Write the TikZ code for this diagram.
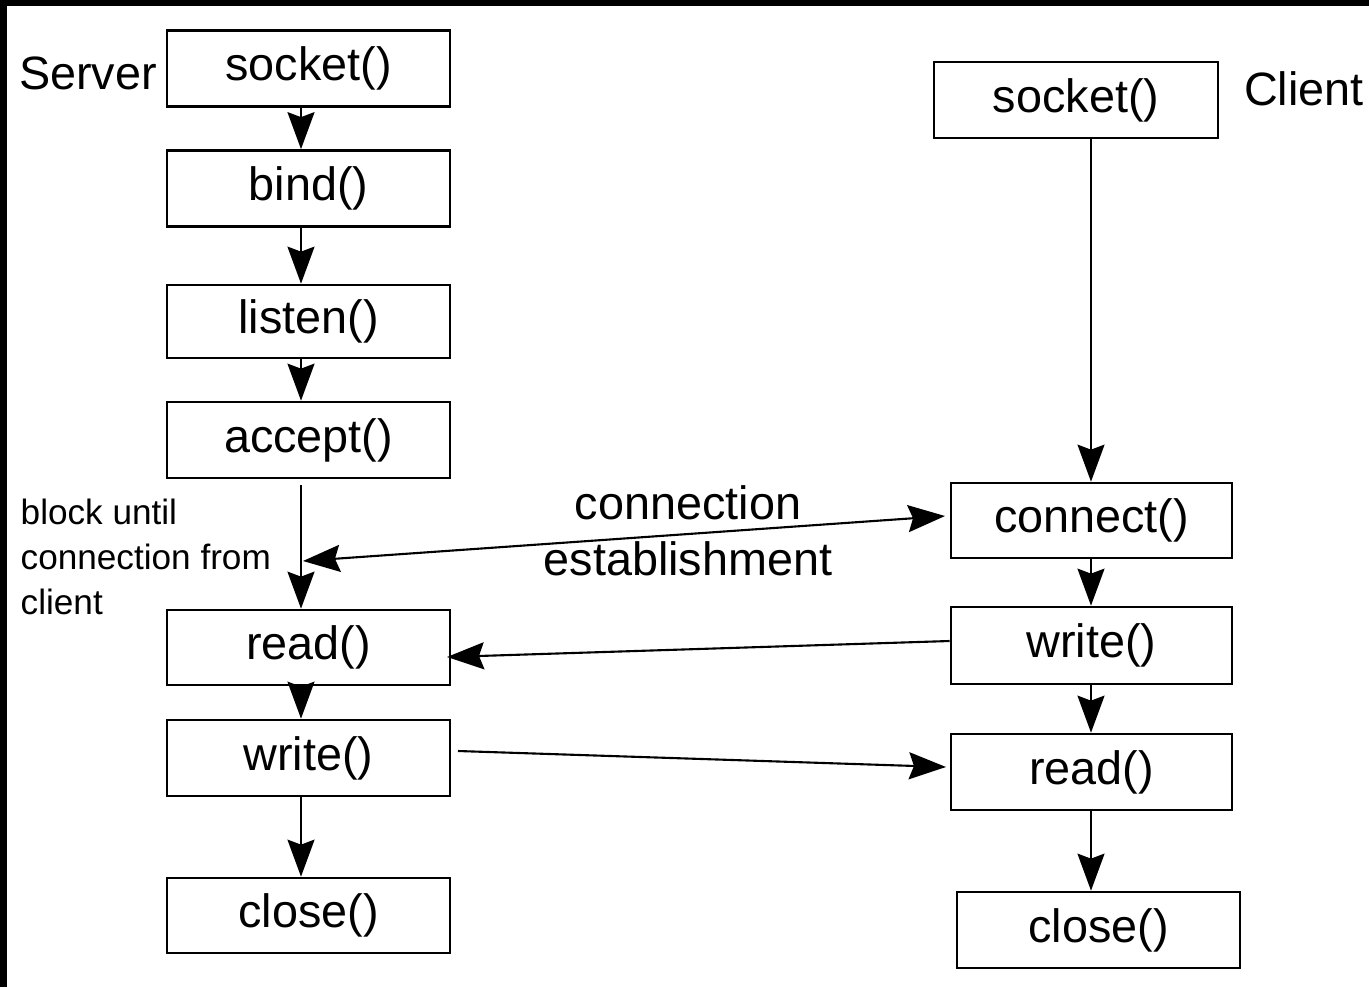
\documentclass[tikz,border=0pt]{standalone}
\usepackage{fontspec}
\setmainfont{Liberation Sans}
\usetikzlibrary{arrows.meta}
\begin{document}
\begin{tikzpicture}[x=0.01cm,y=-0.01cm,
  box/.style={draw, line width=0.75pt, minimum width=2.83cm, minimum height=0.76cm, inner sep=0pt, font=\fontsize{13.3}{16}\selectfont},
  lbl/.style={font=\fontsize{13.3}{16}\selectfont, inner sep=0pt},
  note/.style={font=\fontsize{10}{12.8}\selectfont, inner sep=0pt, align=left, anchor=north west},
  arr/.style={line width=0.6pt, -{Stealth[length=0.37cm,width=0.27cm,inset=0.05cm]}},
  darr/.style={line width=0.6pt, {Stealth[length=0.37cm,width=0.27cm,inset=0.05cm]}-{Stealth[length=0.37cm,width=0.27cm,inset=0.05cm]}}]
\useasboundingbox (0,0) rectangle (1369,987);
\fill[white] (0,0) rectangle (1369,987);
\fill[black] (0,0) rectangle (1369,6);
\fill[black] (0,0) rectangle (7,987);
% server
\node[box] (ssock) at (308.5,68.5) {socket()};
\node[box] (sbind) at (308.5,188.5) {bind()};
\node[box, minimum height=0.73cm] (slisten) at (308.5,321.5) {listen()};
\node[box] (saccept) at (308.5,440) {accept()};
\node[box, minimum height=0.75cm] (sread) at (308.5,647.5) {read()};
\node[box] (swrite) at (308.5,758) {write()};
\node[box, minimum height=0.75cm] (sclose) at (308.5,915.5) {close()};
% client
\node[box, minimum width=2.84cm] (csock) at (1076,100) {socket()};
\node[box, minimum width=2.81cm, minimum height=0.75cm] (cconn) at (1091.5,520.5) {connect()};
\node[box, minimum width=2.81cm, minimum height=0.77cm] (cwrite) at (1091.5,645.5) {write()};
\node[box, minimum width=2.81cm] (cread) at (1091.5,772) {read()};
\node[box, minimum width=2.83cm] (cclose) at (1098.5,930) {close()};
% labels
\node[lbl] (lserver) at (88,73) {Server};
\node[lbl] (lclient) at (1304,89) {Client};
\node[lbl] (lconn) at (688,503) {connection};
\node[lbl] (lest) at (688,559) {establishment};
\node[note] (lblock) at (20,498) {block until\\connection from\\client};
% server arrows
\draw[arr] (ssock.south -| 301,0) -- (sbind.north -| 301,0);
\draw[arr] (sbind.south -| 301,0) -- (slisten.north -| 301,0);
\draw[arr] (slisten.south -| 301,0) -- (saccept.north -| 301,0);
\draw[arr] (301,485) -- (sread.north -| 301,0);
\draw[arr] (sread.south -| 301,0) -- (swrite.north -| 301,0);
\draw[arr] (swrite.south -| 301,0) -- (sclose.north -| 301,0);
% client arrows
\draw[arr] (csock.south -| 1091,0) -- (cconn.north -| 1091,0);
\draw[arr] (cconn.south -| 1091,0) -- (cwrite.north -| 1091,0);
\draw[arr] (cwrite.south -| 1091,0) -- (cread.north -| 1091,0);
\draw[arr] (cread.south -| 1091,0) -- (cclose.north -| 1091,0);
% cross arrows
\coordinate (blk) at (303,561);
\draw[darr] (blk) -- (945,516);
\draw[arr] (cwrite.west |- 0,641) -- (447,657);
\draw[arr] (458,751) -- (946,767);
\end{tikzpicture}
\end{document}
